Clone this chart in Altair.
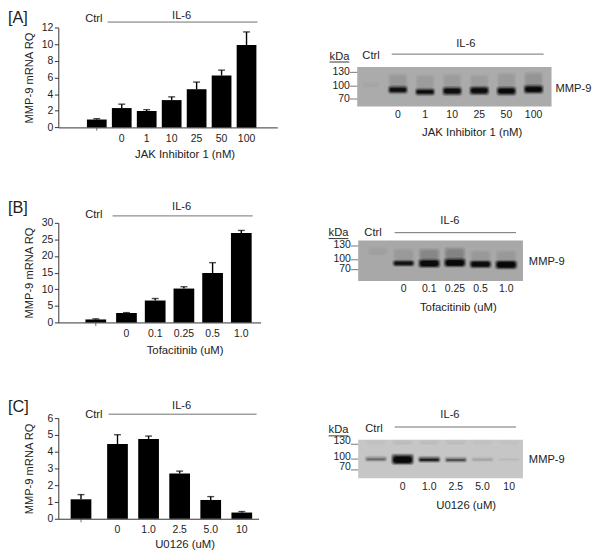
import altair as alt
import pandas as pd

# ---- bar chart values ----
doses_a = ["Ctrl", "0", "1", "10", "25", "50", "100"]
rq_a = [0.95, 2.33, 1.98, 3.29, 4.6, 6.25, 9.93]
upper_a = [1.05, 2.8, 2.14, 3.68, 5.46, 6.9, 11.5]

doses_b = ["Ctrl", "0", "0.1", "0.25", "0.5", "1.0"]
rq_b = [0.9, 2.86, 6.6, 10.2, 14.9, 26.9]
upper_b = [1.08, 2.96, 7.2, 10.75, 18.0, 27.7]

doses_c = ["Ctrl", "0", "1.0", "2.5", "5.0", "10"]
rq_c = [1.16, 4.46, 4.76, 2.7, 1.12, 0.37]
upper_c = [1.44, 5.01, 4.93, 2.84, 1.32, 0.43]

# ---- blot readings (kDa extents and darkness of each lane) ----
band_top_a = [100, 99, 93, 97, 98, 97, 101]
band_bot_a = [96, 82, 78, 78, 79, 78, 82]
band_dark_a = [0.01, 0.88, 0.92, 0.88, 0.92, 0.95, 1.0]
smear_top_a = [108, 124, 122, 124, 122, 126, 128]
smear_bot_a = [98, 99, 93, 97, 98, 97, 101]
smear_dark_a = [0.02, 0.12, 0.09, 0.09, 0.09, 0.1, 0.14]

band_top_b = [100, 97, 100, 102, 96, 96]
band_bot_b = [96, 79, 75, 77, 74, 71]
band_dark_b = [0.0, 0.8, 0.92, 0.97, 0.92, 1.0]
smear_top_b = [126, 122, 122, 124, 118, 118]
smear_bot_b = [109, 97, 100, 102, 96, 96]
smear_dark_b = [0.05, 0.1, 0.24, 0.26, 0.1, 0.1]

band_top_c = [104, 108, 103, 102, 102, 101]
band_bot_c = [92, 84, 90, 90, 92, 93]
band_dark_c = [0.32, 1.0, 0.8, 0.5, 0.14, 0.04]
smear_top_c = [136, 136, 136, 136, 136, 136]
smear_bot_c = [127, 127, 127, 127, 127, 127]
smear_dark_c = [0.03, 0.05, 0.04, 0.04, 0.03, 0.02]

FONT = "Liberation Sans"
INK = "#222222"
TICK_SIZE = 10.6
W, H = 592, 547
layers = []


def band_scale(domain, r0, r1, first_center, step, bar):
    n = len(domain)
    inner = 1 - bar / step
    total = r1 - r0
    outer = (total / step - (n - inner)) / 2
    space = total - step * (n - inner)
    align = (first_center - bar / 2 - r0) / space if space else 0.5
    return alt.Scale(type="band", domain=domain, range=[r0 - 8, r1 - 8],
                     paddingInner=inner, paddingOuter=outer,
                     align=max(0, min(1, align)))


def text(label, x, y, size=11.3, align="center"):
    layers.append(
        alt.Chart(pd.DataFrame({"t": [label]}))
        .mark_text(font=FONT, fontSize=size, color=INK, align=align, baseline="middle")
        .encode(text="t:N", x=alt.value(x - 8), y=alt.value(y - 8))
    )


def line(x0, x1, y, color="#707070"):
    layers.append(
        alt.Chart(pd.DataFrame({"t": [0]}))
        .mark_rule(color=color, strokeWidth=1)
        .encode(x=alt.value(x0 - 8), x2=alt.value(x1 - 8), y=alt.value(y - 8))
    )


def bar_panel(doses, rq, upper, ymax, ystep, top, bottom, x_end, step, center0, ctrl_shift,
              bar, xtitle, title_x, lab_pad, title_pad):
    df = pd.DataFrame({"dose": doses, "rq": rq, "upper": upper})
    sx = band_scale(doses, 59, x_end, center0, step, bar)
    sy = alt.Scale(domain=[0, ymax], range=[bottom - 8, top - 8], nice=False)
    y_axis = alt.Axis(
        orient="left", offset=-(59 - 8), grid=False, values=list(range(0, ymax + 1, ystep)),
        tickSize=4, tickColor="#333333", domainColor="#333333", labelPadding=1.5,
        labelFontSize=TICK_SIZE, title="MMP-9 mRNA RQ", titleFontSize=11.3,
        titleX=-24.5, titleFontWeight="normal", labelColor=INK, titleColor=INK,
    )
    x_axis = alt.Axis(
        orient="bottom", offset=-(H - (bottom - 8)), ticks=False, domainColor="#333333",
        labelAngle=0, labelFontSize=TICK_SIZE, labelPadding=lab_pad, labelOverlap=False,
        labelExpr="datum.label == 'Ctrl' ? '' : datum.label", title=xtitle,
        titleFontSize=11.5, titleFontWeight="normal", titlePadding=title_pad,
        titleX=title_x - 8, labelColor=INK, titleColor=INK,
    )
    treated = df[df.dose != "Ctrl"]
    ctrl = df[df.dose == "Ctrl"]
    X = alt.X("dose:N", scale=sx, axis=None)
    Y = alt.Y("rq:Q", scale=sy, axis=None)
    layers.append(
        alt.Chart(treated).mark_bar(color="black").encode(
            x=alt.X("dose:N", scale=sx, axis=x_axis),
            y=alt.Y("rq:Q", scale=sy, axis=y_axis),
        )
    )
    for part, shift in ((treated, 0), (ctrl, ctrl_shift)):
        if part is ctrl:
            layers.append(alt.Chart(part).mark_bar(color="black", xOffset=shift).encode(x=X, y=Y))
        layers.append(
            alt.Chart(part).mark_rule(color="black", strokeWidth=1.4, xOffset=shift).encode(
                x=X, y=Y, y2=alt.Y2("upper:Q")
            )
        )
        layers.append(
            alt.Chart(part).mark_tick(color="black", thickness=1.4, size=7, orient="horizontal",
                                      xOffset=shift).encode(
                x=X, y=alt.Y("upper:Q", scale=sy, axis=None)
            )
        )
    # the small tick under the control bar
    layers.append(
        alt.Chart(ctrl).mark_tick(color="#333333", thickness=1, size=3, orient="vertical",
                                  xOffset=ctrl_shift, yOffset=2).encode(
            x=X, y=alt.Y("base:Q", scale=sy, axis=None)
        ).transform_calculate(base="0")
    )


def blot_panel(lanes, band_top, band_bot, band_dark, smear_top, smear_bot, smear_dark,
               left, right, top, bottom, y130, y100, y70, center0, step, rel, bg,
               label_offset, xtitle, title_x, lab_pad, title_pad):
    sx = band_scale(lanes, left, right, center0, step, step)
    sy = alt.Scale(domain=[40, 70, 100, 130, 160],
                   range=[y70 + (y70 - y100) - 8, y70 - 8, y100 - 8, y130 - 8, y130 - (y100 - y130) - 8],
                   nice=False, zero=False)
    # gray membrane
    layers.append(
        alt.Chart(pd.DataFrame({"t": [0]})).mark_rect(color=bg).encode(
            x=alt.value(left - 8), x2=alt.value(right - 8),
            y=alt.value(top - 8), y2=alt.value(bottom - 8),
        )
    )
    df = pd.DataFrame({"lane": lanes, "bt": band_top, "bb": band_bot, "bd": band_dark,
                       "st": smear_top, "sb": smear_bot, "sd": smear_dark})
    X = alt.X("lane:N", scale=sx, axis=None)
    # faint higher-weight smear, soft-edged
    for rs, ps, k in ((1.05, 3, 0.25), (0.95, 0, 0.3), (0.8, -3, 0.3)):
        d = df.assign(a=df.st + ps, b=df.sb, o=df.sd * k)
        layers.append(
            alt.Chart(d).mark_bar(color="black", width=alt.RelativeBandSize(band=rel * rs),
                                  cornerRadius=3).encode(
                x=X, y=alt.Y("a:Q", scale=sy, axis=None), y2=alt.Y2("b:Q"),
                opacity=alt.Opacity("o:Q", scale=None),
            )
        )
    # main band, built up soft-edged
    for rs, pd_k, k in ((1.14, 2.5, 0.14), (1.08, 1, 0.22), (1.0, -1, 0.35), (0.92, -3, 0.55), (0.84, -5, 0.75)):
        d = df.assign(a=df.bt + pd_k, b=df.bb - pd_k, o=df.bd * k)
        layers.append(
            alt.Chart(d).mark_bar(color="black", width=alt.RelativeBandSize(band=rel * rs),
                                  cornerRadius=3).encode(
                x=X, y=alt.Y("a:Q", scale=sy, axis=None), y2=alt.Y2("b:Q"),
                opacity=alt.Opacity("o:Q", scale=None),
            )
        )
    # axes
    y_axis = alt.Axis(orient="left", offset=-(left - 8), grid=False, values=[70, 100, 130],
                      domain=False, tickSize=8, tickColor="#777777", labelPadding=0,
                      labelFontSize=TICK_SIZE, labelOffset=label_offset, title=None, labelColor=INK,
                      labelOverlap=False, labelBound=False)
    x_axis = alt.Axis(orient="bottom", offset=-(H - (bottom - 8)), ticks=False, domain=False,
                      labelAngle=0, labelFontSize=TICK_SIZE, labelPadding=lab_pad, labelOverlap=False,
                      labelExpr="datum.label == 'Ctrl' ? '' : datum.label", title=xtitle,
                      titleFontSize=11.5, titleFontWeight="normal", titlePadding=title_pad,
                      titleX=title_x - 8, labelColor=INK, titleColor=INK)
    layers.append(
        alt.Chart(df).mark_bar(opacity=0).encode(
            x=alt.X("lane:N", scale=sx, axis=x_axis),
            y=alt.Y("bb:Q", scale=sy, axis=y_axis),
        )
    )


# ---- panel A ----
bar_panel(doses_a, rq_a, upper_a, 12, 2, 24.3, 125.3, 281, 25.3, 98, 0, 20,
          "JAK Inhibitor 1 (nM)", 187, 6.5, 4.5)
text("[A]", 8, 14, 16.5, "left")
text("Ctrl", 95, 15)
text("IL-6", 184, 12.5)
line(109, 261, 18.5)
blot_panel(doses_a, band_top_a, band_bot_a, band_dark_a, smear_top_a, smear_bot_a, smear_dark_a,
           362, 559, 64, 104, 69, 83, 96, 374, 27.5, 0.68, "#ababab", 0,
           "JAK Inhibitor 1 (nM)", 478, 3.5, 6.5)
text("IL-6", 472, 41)
line(397, 551, 51)
text("Ctrl", 376, 53)
text("kDa", 344, 54)
line(334, 354, 59, "#333333")
text("MMP-9", 563, 86, 11.3, "left")

# ---- panel B ----
bar_panel(doses_b, rq_b, upper_b, 30, 5, 222, 323, 264, 29.1, 99, -2, 21,
          "Tofacitinib (uM)", 187, 6.5, 5.5)
text("[B]", 8, 207, 16.5, "left")
text("Ctrl", 95, 214)
text("IL-6", 184, 206)
line(114, 256, 215)
blot_panel(doses_b, band_top_b, band_bot_b, band_dark_b, smear_top_b, smear_bot_b, smear_dark_b,
           363, 530, 240, 281, 245, 259, 269, 383, 26, 0.8, "#a8a8a8", -1,
           "Tofacitinib (uM)", 464, 2.5, 7.5)
text("IL-6", 456, 220)
line(400, 523, 232)
text("Ctrl", 378, 232)
text("kDa", 343, 232)
line(333, 353, 238, "#333333")
text("MMP-9", 536, 262, 11.3, "left")

# ---- panel C ----
bar_panel(doses_c, rq_c, upper_c, 6, 1, 420, 522, 262, 31.5, 87.5, -5.5, 21,
          "U0126 (uM)", 187, 5.5, 4.5)
text("[C]", 8, 409, 16.5, "left")
text("Ctrl", 95, 417)
text("IL-6", 184, 408)
line(110, 260, 416)
blot_panel(doses_c, band_top_c, band_bot_c, band_dark_c, smear_top_c, smear_bot_c, smear_dark_c,
           363, 530, 442, 481, 445.5, 461, 472, 381, 27, 0.78, "#c6c6c6", -2.5,
           "U0126 (uM)", 472, 3.5, 7.5)
text("IL-6", 456, 417)
line(400, 523, 429)
text("Ctrl", 379, 431)
text("kDa", 343, 432)
line(333, 353, 438, "#333333")
text("MMP-9", 536, 462, 11.3, "left")

chart = (
    alt.layer(*layers)
    .resolve_scale(x="independent", y="independent")
    .properties(width=W, height=H, autosize=alt.AutoSizeParams(type="none"), padding=0)
    .configure_view(stroke=None)
    .configure_axis(labelFont=FONT, titleFont=FONT)
)
chart.save("out.html", embed_options={"renderer": "svg", "actions": False})
